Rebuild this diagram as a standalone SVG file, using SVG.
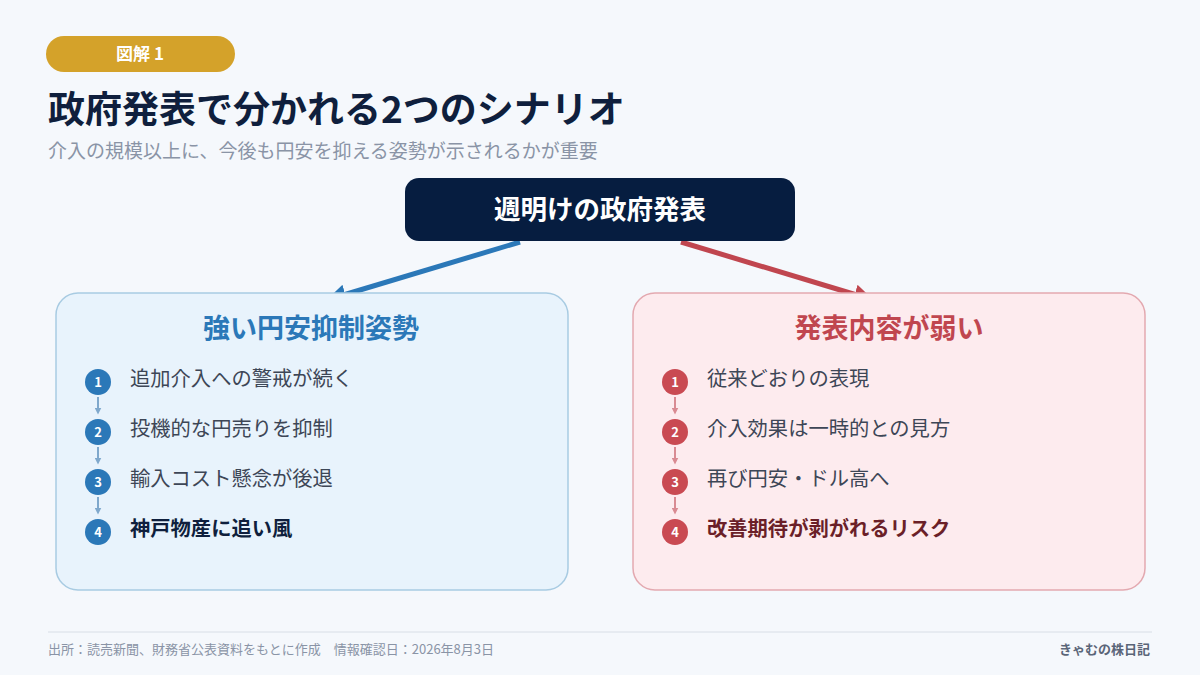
<svg xmlns="http://www.w3.org/2000/svg" width="1200" height="675" viewBox="0 0 1200 675">
<defs>
<style>
text{font-family:"Noto Sans CJK JP","Noto Sans",sans-serif}
.item{font-size:20.3px;fill:#3d4656}
.num{font-size:13px;font-weight:700;fill:#fff;text-anchor:middle}
.bt{font-size:27px;font-weight:700;text-anchor:middle}
</style>
<marker id="ab" viewBox="0 0 10 10" refX="8" refY="5" markerWidth="4" markerHeight="4" orient="auto"><path d="M0,0L10,5L0,10z" fill="#2b78b8"/></marker>
<marker id="ar" viewBox="0 0 10 10" refX="8" refY="5" markerWidth="4" markerHeight="4" orient="auto"><path d="M0,0L10,5L0,10z" fill="#c0464f"/></marker>
<marker id="sb" viewBox="0 0 10 10" refX="5" refY="5" markerWidth="7" markerHeight="7" markerUnits="userSpaceOnUse" orient="auto"><path d="M0,0L10,5L0,10z" fill="#7fa8cc"/></marker>
<marker id="sr" viewBox="0 0 10 10" refX="5" refY="5" markerWidth="7" markerHeight="7" markerUnits="userSpaceOnUse" orient="auto"><path d="M0,0L10,5L0,10z" fill="#d98a92"/></marker>
</defs>
<rect width="1200" height="675" fill="#f5f8fc"/>
<g id="header">
<rect x="46" y="36" width="189" height="36" rx="18" fill="#d4a22a"/>
<text x="140" y="60" font-size="17" font-weight="700" fill="#fff" text-anchor="middle">図解 1</text>
<text x="48" y="123" font-size="37" font-weight="700" fill="#0f1f3d">政府発表で分かれる2つのシナリオ</text>
<text x="48" y="158" font-size="19" fill="#8a94a6">介入の規模以上に、今後も円安を抑える姿勢が示されるかが重要</text>
</g>
<g id="connectors">
<line x1="520" y1="242" x2="330" y2="299" stroke="#2b78b8" stroke-width="5" marker-end="url(#ab)"/>
<line x1="681" y1="242" x2="870" y2="299" stroke="#c0464f" stroke-width="5" marker-end="url(#ar)"/>
</g>
<g id="root">
<rect x="405" y="178" width="390" height="63" rx="14" fill="#061d40"/>
<text x="600" y="219" font-size="26.5" font-weight="700" fill="#fff" text-anchor="middle">週明けの政府発表</text>
</g>
<g id="strong">
<rect x="56" y="293" width="512" height="297" rx="22" fill="#e8f3fc" stroke="#a8cbe2" stroke-width="1.5"/>
<text x="311" y="338" class="bt" fill="#2b78b8">強い円安抑制姿勢</text>
<g stroke="#7fa8cc" stroke-width="2" marker-end="url(#sb)">
<line x1="98" y1="397" x2="98" y2="411"/>
<line x1="98" y1="447" x2="98" y2="461"/>
<line x1="98" y1="497" x2="98" y2="511"/>
</g>
<g fill="#2b78b8">
<circle cx="98" cy="382" r="13"/><circle cx="98" cy="432" r="13"/><circle cx="98" cy="482" r="13"/><circle cx="98" cy="532" r="13"/>
</g>
<text x="98" y="387" class="num">1</text><text x="98" y="437" class="num">2</text><text x="98" y="487" class="num">3</text><text x="98" y="537" class="num">4</text>
<text x="130" y="386" class="item">追加介入への警戒が続く</text>
<text x="130" y="436" class="item">投機的な円売りを抑制</text>
<text x="130" y="486" class="item">輸入コスト懸念が後退</text>
<text x="130" y="536" class="item" font-weight="700" style="fill:#0f1f3d">神戸物産に追い風</text>
</g>
<g id="weak">
<rect x="633" y="293" width="512" height="297" rx="22" fill="#fdebee" stroke="#e3a9b0" stroke-width="1.5"/>
<text x="889" y="338" class="bt" fill="#c0464f">発表内容が弱い</text>
<g stroke="#d98a92" stroke-width="2" marker-end="url(#sr)">
<line x1="675" y1="397" x2="675" y2="411"/>
<line x1="675" y1="447" x2="675" y2="461"/>
<line x1="675" y1="497" x2="675" y2="511"/>
</g>
<g fill="#c94a52">
<circle cx="675" cy="382" r="13"/><circle cx="675" cy="432" r="13"/><circle cx="675" cy="482" r="13"/><circle cx="675" cy="532" r="13"/>
</g>
<text x="675" y="387" class="num">1</text><text x="675" y="437" class="num">2</text><text x="675" y="487" class="num">3</text><text x="675" y="537" class="num">4</text>
<text x="707" y="386" class="item">従来どおりの表現</text>
<text x="707" y="436" class="item">介入効果は一時的との見方</text>
<text x="707" y="486" class="item">再び円安・ドル高へ</text>
<text x="707" y="536" class="item" font-weight="700" style="fill:#6b1f28">改善期待が剥がれるリスク</text>
</g>
<g id="footer">
<line x1="48" y1="632" x2="1152" y2="632" stroke="#d8dee6" stroke-width="1"/>
<text x="48" y="654" font-size="13" fill="#8a94a6">出所：読売新聞、財務省公表資料をもとに作成　情報確認日：2026年8月3日</text>
<text x="1150" y="654" font-size="13" font-weight="700" fill="#5a6578" text-anchor="end">きゃむの株日記</text>
</g>
</svg>
